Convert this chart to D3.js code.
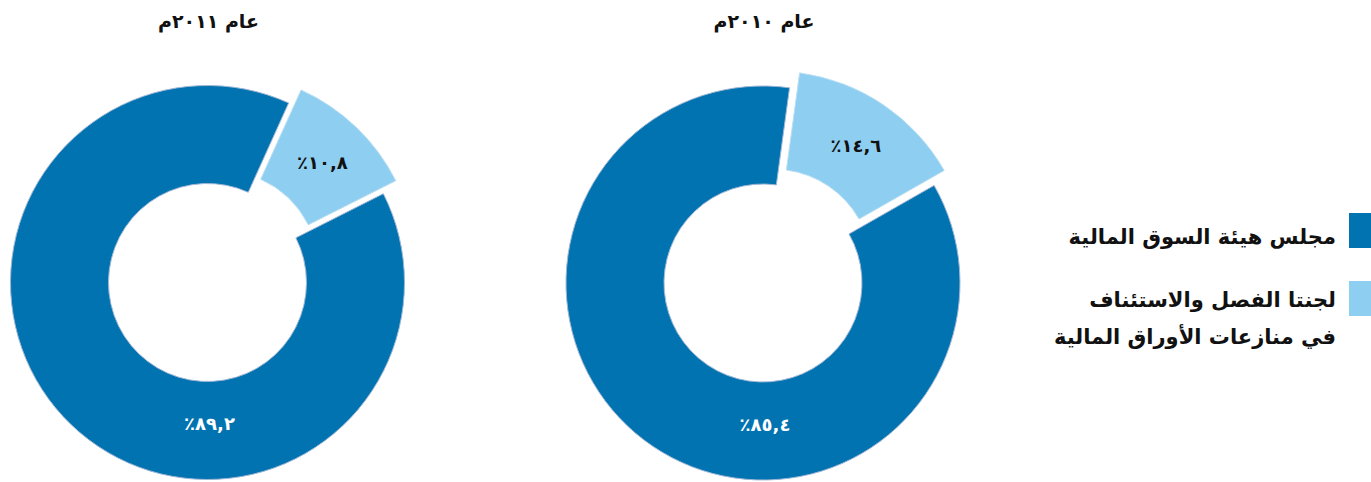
<!DOCTYPE html>
<html lang="ar">
<head>
<meta charset="utf-8">
<script src="https://cdn.jsdelivr.net/npm/d3@7"></script>
<style>
  html, body { margin: 0; padding: 0; background: #ffffff; }
  svg { display: block; }
  text { font-family: "DejaVu Sans", "Noto Sans", sans-serif; }
</style>
</head>
<body>
<svg id="chart" width="1371" height="482"></svg>
<script>
// Share of cases by body, per year (percent)
const categories = [
  "مجلس هيئة السوق المالية",
  "لجنتا الفصل والاستئناف في منازعات الأوراق المالية"
];
const years = ["عام ٢٠١١م", "عام ٢٠١٠م"];
const share2011 = [89.2, 10.8];
const share2010 = [85.4, 14.6];

const colors = ["#0073b0", "#8ecff1"];

// Layout of each donut (style only)
const charts = [
  { title: years[0], values: share2011, cx: 207.5, cy: 282.5, startDeg: 63.2 },
  { title: years[1], values: share2010, cx: 763, cy: 283, startDeg: 60.3 }
];
const innerR = 99, outerR = 197, explode = 18;

const svg = d3.select("#chart");

const defs = svg.append("defs");
defs.append("filter").attr("id", "soft")
  .attr("x", "-5%").attr("y", "-5%").attr("width", "110%").attr("height", "110%")
  .append("feGaussianBlur").attr("stdDeviation", 0.6);

// Arabic-Indic digits with a comma decimal separator
const arabicDigits = "٠١٢٣٤٥٦٧٨٩";
function toArabic(str) {
  return String(str).replace(/[0-9]/g, d => arabicDigits[+d]).replace(".", ",");
}
const pctLabel = v => toArabic(d3.format(".1f")(v)) + "٪";

const arc = d3.arc().innerRadius(innerR).outerRadius(outerR);
const rad = Math.PI / 180;

charts.forEach(c => {
  const pie = d3.pie().sort(null)
    .startAngle(c.startDeg * rad)
    .endAngle((c.startDeg + 360) * rad);
  const arcs = pie(c.values);

  const g = svg.append("g").attr("transform", `translate(${c.cx},${c.cy})`);

  const slice = g.selectAll("g.slice").data(arcs).join("g")
    .attr("class", "slice")
    .attr("transform", (d, i) => {
      if (i === 0) return null;
      const mid = (d.startAngle + d.endAngle) / 2;
      return `translate(${explode * Math.sin(mid)},${-explode * Math.cos(mid)})`;
    });

  slice.append("path")
    .attr("d", arc)
    .attr("fill", (d, i) => colors[i])
    .attr("stroke", (d, i) => i === 0 ? "#9fb6d6" : "#b9def3")
    .attr("stroke-width", 1)
    .attr("filter", "url(#soft)");

  // Labels: small slice at its centroid, large slice at the bottom of the ring
  slice.append("text")
    .attr("direction", "rtl")
    .attr("text-anchor", "middle")
    .attr("dominant-baseline", "central")
    .attr("font-size", 18)
    .attr("font-weight", "bold")
    .attr("fill", (d, i) => i === 0 ? "#ffffff" : "#111111")
    .attr("x", (d, i) => i === 0 ? 2 : arc.centroid(d)[0])
    .attr("y", (d, i) => i === 0 ? 141 : arc.centroid(d)[1])
    .text(d => pctLabel(d.data));

  svg.append("text")
    .attr("direction", "rtl")
    .attr("text-anchor", "middle")
    .attr("dominant-baseline", "central")
    .attr("x", c.cx + 1)
    .attr("y", 21)
    .attr("font-size", 19)
    .attr("font-weight", "bold")
    .attr("fill", "#111111")
    .text(c.title);
});

// Legend
const legendLines = [
  { y: 237, swatch: [213, 35], lines: [categories[0]] },
  { y: 300, swatch: [281, 35], lines: ["لجنتا الفصل والاستئناف", "في منازعات الأوراق المالية"] }
];
const legend = svg.append("g");
legendLines.forEach((item, i) => {
  legend.append("rect")
    .attr("x", 1349).attr("y", item.swatch[0])
    .attr("width", 24).attr("height", item.swatch[1])
    .attr("fill", colors[i]);
  item.lines.forEach((line, k) => {
    legend.append("text")
      .attr("direction", "rtl")
      .attr("text-anchor", "start")
      .attr("dominant-baseline", "central")
      .attr("x", 1336)
      .attr("y", item.y + k * 37)
      .attr("font-size", 21)
      .attr("font-weight", "bold")
      .attr("fill", "#111111")
      .text(line);
  });
});
</script>
</body>
</html>
